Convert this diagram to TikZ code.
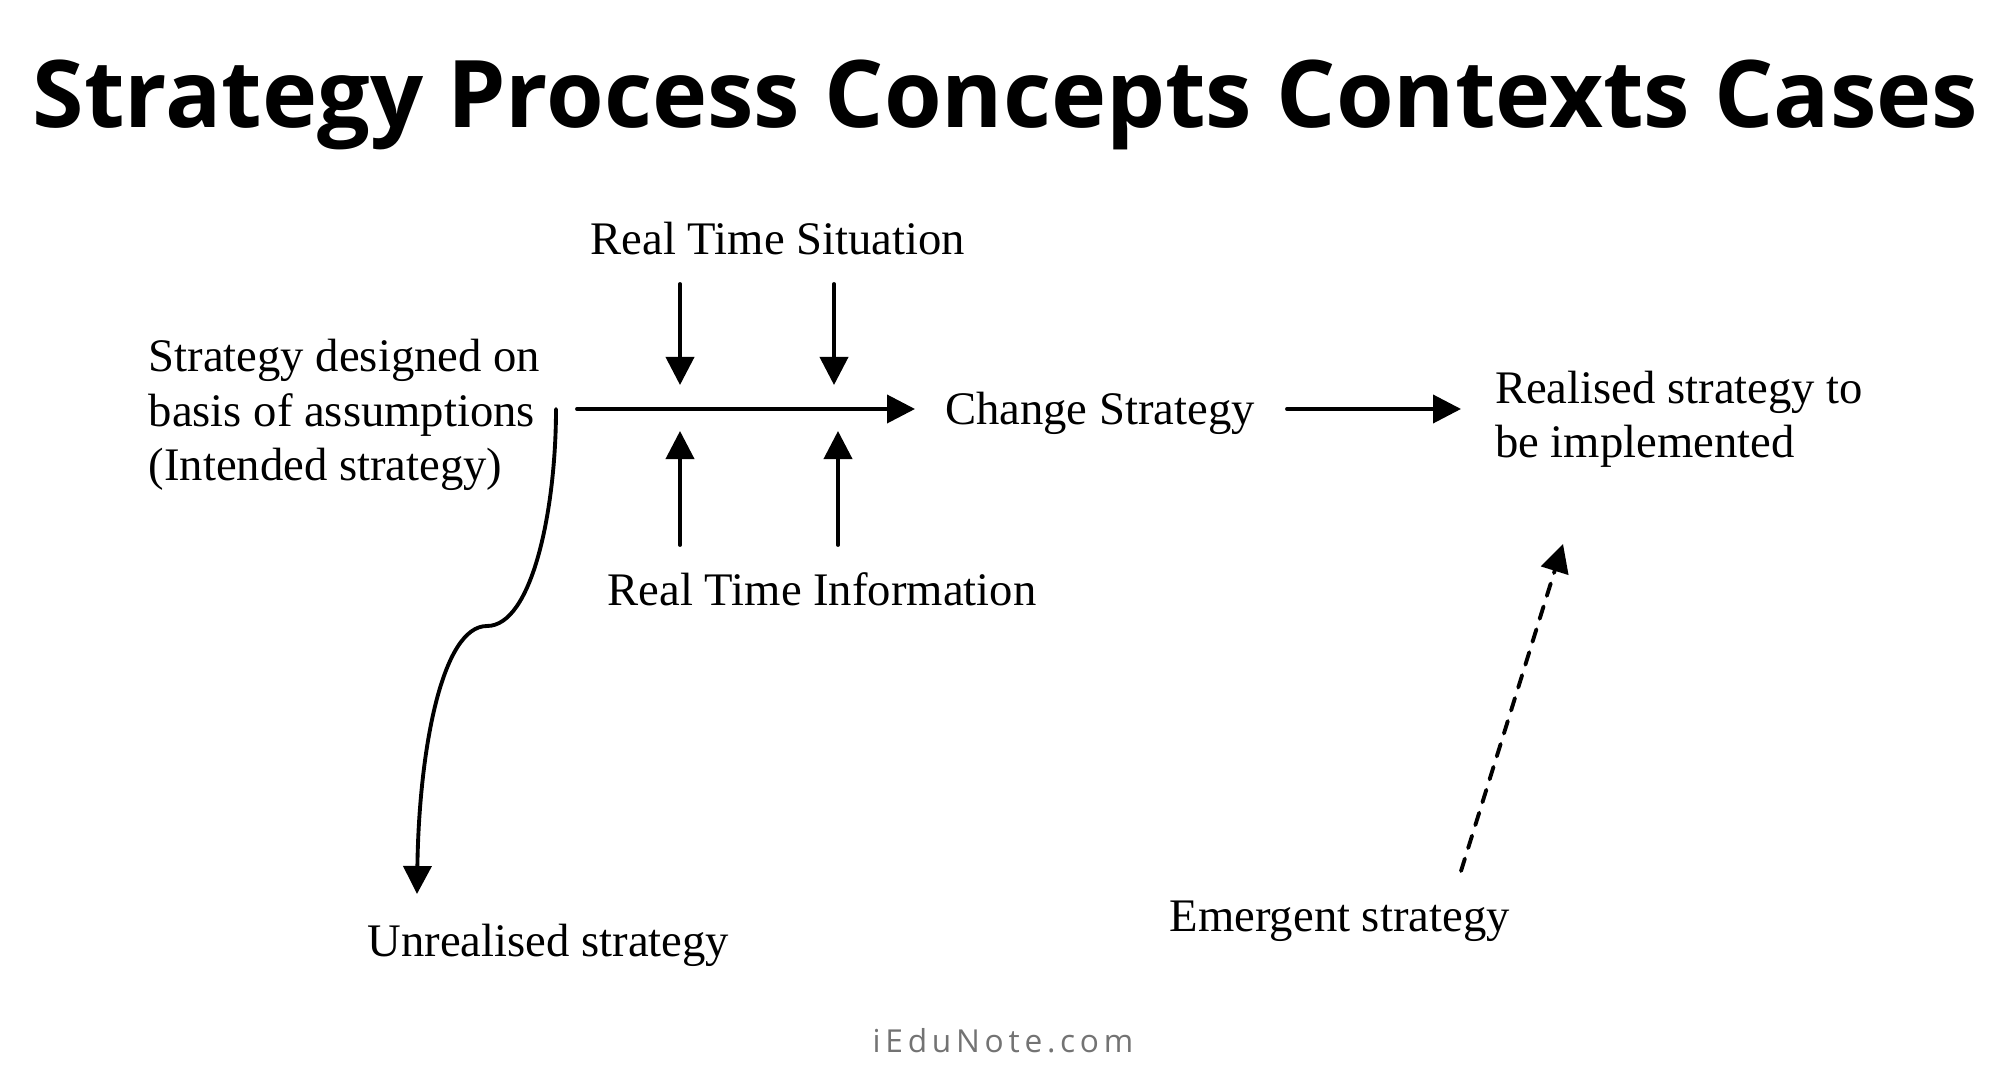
\documentclass[tikz,border=0pt]{standalone}
\usepackage{fontspec}
\setmainfont{Liberation Serif}
\newfontfamily\titlefont{Open Sans}
\newfontfamily\markfont[LetterSpace=15]{Open Sans}
\usetikzlibrary{arrows.meta}
\tikzset{
	lab/.style={inner sep=0pt,font=\fontsize{13.27pt}{15.4pt}\selectfont,align=left},
	arr/.style={line width=1.1pt,-{Triangle[length=.28cm,width=.28cm]}},
}
\begin{document}
\begin{tikzpicture}[line cap=round,line join=round,x=.01cm,y=-.01cm]
	\useasboundingbox (0,0) rectangle (2010,1080);
	%Tiêu đề
	\node[inner sep=0pt,anchor=base west,font=\titlefont\bfseries\fontsize{26.55pt}{30pt}\selectfont] (title) at (32,128) {Strategy Process Concepts Contexts Cases};
	%Các nhãn
	\node[lab,anchor=base west] (situation) at (590,255) {Real Time Situation};
	\node[lab,anchor=west] (designed) at (148,415) {Strategy designed on\\basis of assumptions\\(Intended strategy)};
	\node[lab,anchor=west,outer sep=.31cm] (change) at (914,413) {Change Strategy};
	\node[lab,anchor=west,outer sep=.35cm] (realised) at (1460,419) {Realised strategy to\\be implemented};
	\node[lab,anchor=base west] (information) at (607,606) {Real Time Information};
	\node[lab,anchor=base west] (unrealised) at (367,956) {Unrealised strategy};
	\node[lab,anchor=base west] (emergent) at (1169,931) {Emergent strategy};
	\node[inner sep=0pt,text=black!55,font=\markfont\fontsize{9pt}{11pt}\selectfont] (mark) at (1003,1041) {iEduNote.com};
	%Các mũi tên
	\coordinate (start) at (577,409);
	\coordinate (arrive) at (915,409);
	\coordinate (leave) at (1287,409);
	\coordinate (finish) at (1461,409);
	\draw[arr] (start)--(arrive);
	\draw[arr] (leave)--(finish);
	\foreach \n/\x in {a/680,b/834}{
		\coordinate (top\n) at (\x,284);
		\coordinate (tip\n) at (\x,385);
		\draw[arr] (top\n)--(tip\n);
	}
	\foreach \n/\x in {c/680,d/838}{
		\coordinate (low\n) at (\x,545);
		\coordinate (tip\n) at (\x,431);
		\draw[arr] (low\n)--(tip\n);
	}
	%Đường cong
	\coordinate (bend) at (556,409);
	\coordinate (notch) at (487,626);
	\coordinate (drop) at (417,894);
	\draw[arr] (bend) .. controls (556,510) and (532,626) .. (notch) .. controls (442,626) and (419,750) .. (drop);
	%Nét đứt
	\coordinate (emstart) at (1461,871);
	\coordinate (emtip) at (1563,544);
	\draw[arr,dash pattern=on .13cm off .11cm] (emstart)--(emtip);
\end{tikzpicture}
\end{document}
